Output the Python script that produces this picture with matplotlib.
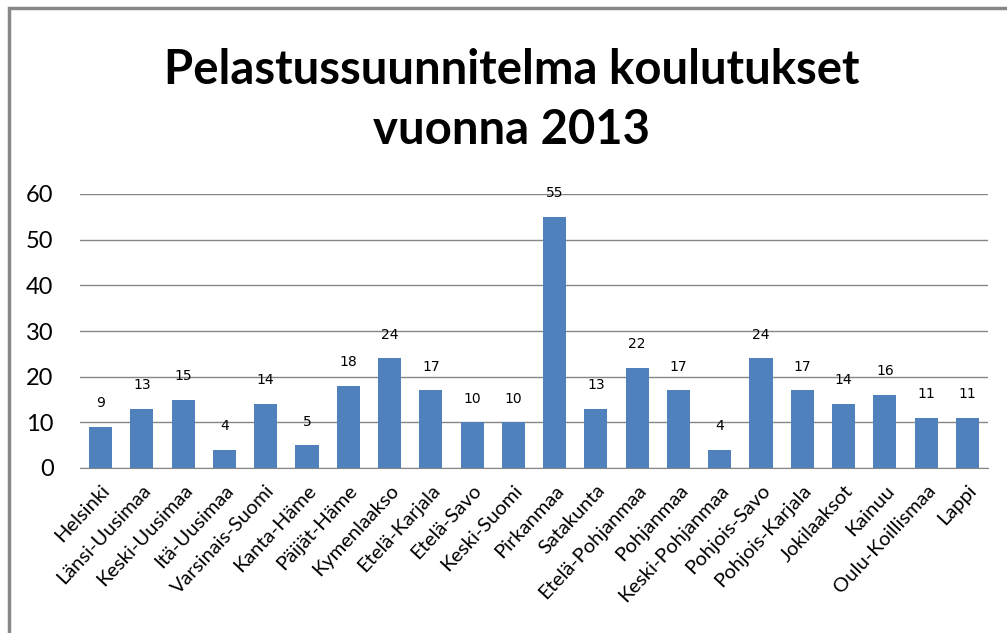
import numpy as np
import matplotlib.pyplot as plt
from matplotlib.patches import Rectangle

regions = ['Helsinki', 'Länsi-Uusimaa', 'Keski-Uusimaa', 'Itä-Uusimaa', 'Varsinais-Suomi',
           'Kanta-Häme', 'Päijät-Häme', 'Kymenlaakso', 'Etelä-Karjala', 'Etelä-Savo',
           'Keski-Suomi', 'Pirkanmaa', 'Satakunta', 'Etelä-Pohjanmaa', 'Pohjanmaa',
           'Keski-Pohjanmaa', 'Pohjois-Savo', 'Pohjois-Karjala', 'Jokilaaksot', 'Kainuu',
           'Oulu-Koillismaa', 'Lappi']
counts = [9, 13, 15, 4, 14, 5, 18, 24, 17, 10, 10, 55, 13, 22, 17, 4, 24, 17, 14, 16, 11, 11]
yticks = [0, 10, 20, 30, 40, 50, 60]

bar_col = '#4F81BD'
grid_col = '#868686'

fig = plt.figure(figsize=[10.07, 6.33], dpi=100)
ax = fig.add_axes([80/1007, 1-468/633, (988-80)/1007, (468-194)/633])

x = np.arange(len(regions))
ax.bar(x, counts, width=0.56, color=bar_col, zorder=3)
for xi, v in zip(x, counts):
    ax.annotate(str(v), (xi, v), xytext=(0, 12), textcoords='offset points',
                ha='center', va='bottom', fontsize=10, color='black', family='DejaVu Sans')

ax.set_xlim(-0.5, len(regions) - 0.5)
ax.set_ylim(0, 60)
ax.set_yticks(yticks)
ax.set_yticklabels([str(t) for t in yticks], fontsize=17, family='Lato')
ax.set_xticks(x)
ax.set_xticklabels(regions, rotation=47, ha='right', rotation_mode='anchor',
                   fontsize=14.5, family='Lato')
ax.tick_params(axis='both', length=0)
ax.tick_params(axis='y', pad=19)
ax.tick_params(axis='x', pad=10)
ax.yaxis.grid(True, color=grid_col, lw=1, zorder=0)
for s in ['top', 'right', 'left']:
    ax.spines[s].set_visible(False)
ax.spines['bottom'].set_color(grid_col)

fig.text(0.508, 1-70/633, 'Pelastussuunnitelma koulutukset', ha='center', va='center',
         fontsize=34, fontweight='bold', family='Lato')
fig.text(0.508, 1-130/633, 'vuonna 2013', ha='center', va='center',
         fontsize=34, fontweight='bold', family='Lato')

# outer chart frame (right/bottom edges run off the image)
fig.patches.append(Rectangle((9/1007, -0.1), 1.2, 1.1 - 8/633, transform=fig.transFigure,
                             fill=False, edgecolor='#888888', lw=2.5))

fig.savefig('out.png', dpi=100)
